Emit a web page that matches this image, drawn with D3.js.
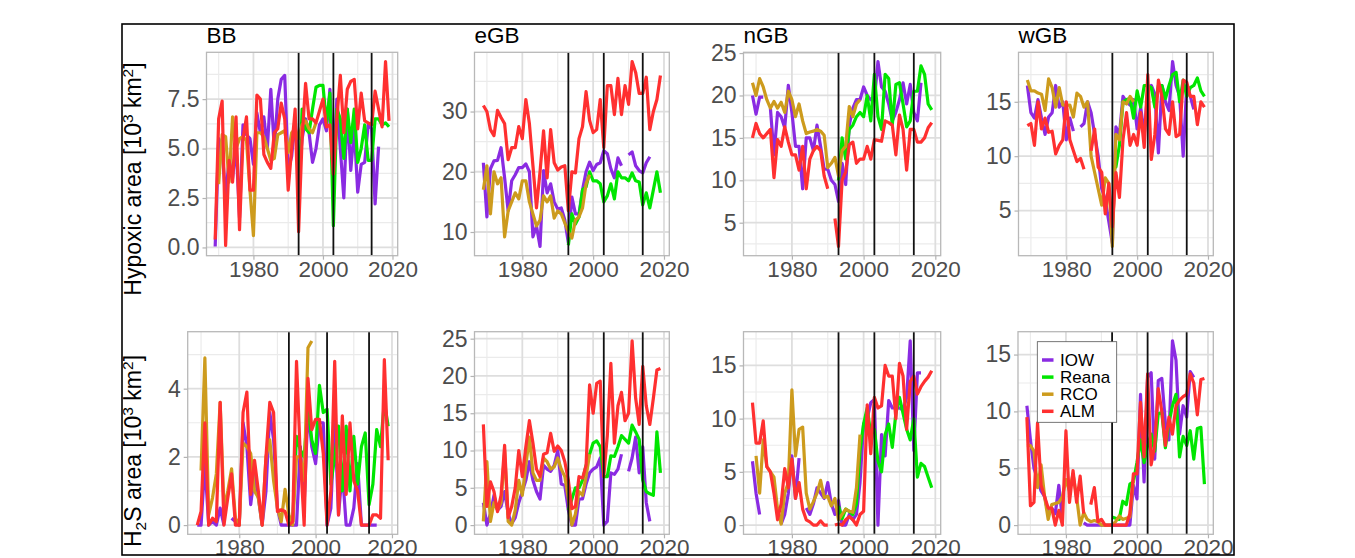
<!DOCTYPE html>
<html><head><meta charset="utf-8">
<script src="https://cdn.jsdelivr.net/npm/d3@7/dist/d3.min.js"></script>
<style>html,body{margin:0;padding:0;background:#fff;} svg{display:block;font-family:"Liberation Sans",Arial,sans-serif;}</style>
</head><body><svg id="chart" width="1355" height="558"></svg>
<script>
// ---------------- DATA ----------------
const regions = ["BB", "eGB", "nGB", "wGB"];
const seriesNames = ["IOW", "Reana", "RCO", "ALM"];
const seriesColors = ["#8a2be2", "#00e600", "#cd9b1d", "#ff3030"];
const eventYears = [1993, 2003, 2014];
const xTicks = [1980, 2000, 2020];
const xMinor = [1970, 1990, 2010];
const hypoxicTitle = "Hypoxic area";
const h2sTitle = "H2S area";

// start years of each series (values are yearly from the start year)
const startIOW = 1969, startReana = 1993, startALM = 1969;
const startRCO = [1970, 1969, 1969, 1969];   // hypoxic row: BB, eGB, nGB, wGB
const startRCOh2s = [1970, 1969, 1970, 1969]; // H2S row

// Hypoxic area [10^3 km2]
const bbHypIOW = [0.05,5.5,5.0,2.5,4.5,3.5,5.2,1.5,6.2,5.7, 5.5,4.2,6.8,5.8,6.6,5.0,8.0,5.0,7.5,8.5, 8.7,3.9,4.6,6.5,3.5,5.5,6.5,5.8,4.3,5.0, 6.2,6.5,5.9,8.0,4.0,7.5,5.0,2.5,7.0,3.9, 6.0,2.8,4.2,4.3,6.2,6.0,2.2,5.1];
const bbHypReana = [2.0,7.0,6.0,5.8,7.0,8.1,8.2,8.2,6.3,7.8, 1.1,7.0,6.5,4.5,7.0,5.3,7.0,4.3,5.0,6.2, 4.4,4.4,6.5,6.5,6.2,6.3,6.1];
const bbHypRCO = [3.2,5.7,5.6,3.3,6.6,5.0,5.5,5.6,5.4,2.9, 0.6,5.8,5.8,5.6,5.0,4.4,4.5,5.7,5.8,5.9, 4.8,5.8,6.0,5.5,6.2,6.4,6.0,5.8,6.3];
const bbHypALM = [0.4,6.5,7.4,0.1,4.4,3.3,6.6,0.9,5.5,6.6, 2.9,2.9,7.7,7.5,4.7,4.3,4.0,5.8,6.0,7.3, 6.5,2.9,5.0,7.0,0.8,5.5,8.3,6.5,6.5,6.3, 6.9,7.5,6.1,6.2,3.7,6.5,8.7,5.8,8.0,8.4, 8.5,6.0,7.8,6.4,6.3,6.2,7.9,7.0,6.1,9.4, 6.4];

const eHypIOW = [21.5,12.5,20.5,21.8,21.9,24,19,13.5,18.5,19.5, 20.7,20.7,21.3,20,9.2,11,7.6,20.2,16.5,18, 15,13.8,14,12,8.2,15.8,13,13,17,20, 21.6,20.2,21.2,21.5,23.5,23,20.5,19,22.3,21, null,22.8,23.3,21,20.2,19.8,21.5,22.5];
const eHypReana = [7.8,13,11.3,12.5,17,17.5,20,18.5,18.5,18, 15,16,18,15.5,20,19,19,18.5,19.8,18.5, 18.3,14.5,16.5,14,17,20,16.5];
const eHypRCO = [17,21,13,20,18,19,9.2,13.5,15,16.5, 15.5,18.5,18.5,15,13,11,12,16,15,16, 12.3,13.5,13,11.5,10,9,12,12.5,14,18, 19.5];
const eHypALM = [31,30,27,26,30.2,29,28,22,24,24, 27.5,25.5,32,28,21,14,20,26.8,19,27, 21.5,20.3,20.8,21,13.5,20,19.8,25.5,27.5,33.3, 28.5,26.5,27,32,24,34.3,34.3,29.5,35.5,29.5, 34.3,31.2,38.3,36.5,33,33,35.7,27,30,32, 36];

const nHypIOW = [20,17.8,19.8,19.8,null,18.5,13,18,17.5,16.2, 21.2,18,14,14,9,15,15,13.5,16.5,14, 11.3,11.3,10,9.5,7.5,12,9.5,16.5,18.5,19.5, 19.5,21,20,19.5,19.5,24,21,20.5,19,17, 18,19.5,21.5,19,21.3,18,17,21.5];
const nHypReana = [10,15,12.5,16,16.5,17.5,18,17.5,20,17, 22.5,17.5,16,22.5,22,16.5,21.3,21.5,19,16.3, 17,20.5,20.5,23.5,22.5,19,18.3];
const nHypRCO = [21.5,20,22,21,19.5,18.5,19.3,18.5,19.2,18, 20.5,19.5,17.5,19,17,15.5,15.7,15.8,16,15.8, 15.3,11.5,12,12.7,10.5,13.5,14,18.7,17.5,19, 19.5];
const nHypALM = [15,16.7,15.5,15,15.5,16,10.3,14.8,14,16.3, 14.5,13,13,11.2,14,9,12.5,13.5,14,13.5, 10.5,9,null,5.5,2.2,10,11,14.2,14.5,12, 12.5,12.5,14,12.5,14.8,14.7,14.6,17,16.8,16.5, 13,17.7,16,11.2,16,16,14.5,14.5,15,16.2, 16.8];

const wHypIOW = [16.5,14,13.5,15.2,13.5,12,13.6,14,16.5,14.5, 15,11.5,13.5,12.3,null,12.7,13,15,14,12, 10,7,6,4,2,12.7,12,15.5,15,14.7, 15.2,12.5,14.5,12,16,16.5,15.7,10.3,16.5,15, 14.2,18.7,16.5,15.5,10,16.5,15.5,14.3];
const wHypReana = [9,9,11,15,15.2,15.3,13.5,16,14.5,16.5, 16.5,16.3,14.5,16.5,16.5,15.3,16.5,17.5,17.7,15, 17,15.5,16.3,16.5,17.2,16,15.5];
const wHypRCO = [17,16,16,15.8,15.7,14.2,17.1,16.3,14.5,16.3, 14.7,14.7,14.7,13.6,15.8,15.5,14.5,15,10,8.5, 7,5.5,8,7.5,1.7,12,11.5,15,14.8,15.5, 15];
const wHypALM = [12.8,13,11,15,12.5,13.5,12.2,12.3,10.2,11, 11.5,15,11.5,10.5,9.5,9.8,8.8,null,10.5,12.5, 9,8.5,4.7,7.5,3.5,8.5,6.2,11.5,14,11, 12,11,14,10.8,17.5,9.7,12,17,15.5,12.5, 12,15,11.8,12,17,16.8,15.5,15.5,12.9,15, 14.5];

// H2S area [10^3 km2]
const bbH2sIOW = [0,0,1.8,0,0.1,0,0.5,0,null,0.2, 0.1,0,3.0,2.3,0.6,1.5,0.8,0,1.0,3.3, 2.5,0.5,0,0,0,0,0,2.3,0.6,3.4, 2.3,1.8,3.0,3.0,0,0.5,3.2,0.3,1.6,0, 0,0.5,1.8,0,0,0,0,0];
const bbH2sReana = [0,0.1,2.6,2.2,2.0,3.5,2.5,2.1,4.1,3.3, 3.4,1.2,2.0,2.9,1.0,2.9,1.0,2.6,1.2,2.3, 2.7,0.6,1.2,2.8,2.3,3.6,2.9];
const bbH2sRCO = [1.6,4.9,0.3,0.8,1.5,3.6,0.5,1.0,1.65,0.2, 0,2.4,2.3,2.1,1.0,0.8,0,2.0,2.5,1.3, 0.5,0.1,1.05,0.3,0,2.0,2.0,1.3,5.2,5.4];
const bbH2sALM = [0,0.4,3.0,0,0.2,0.1,3.6,0,0.8,1.5, 0,0,3.3,3.9,0.9,1.9,1.0,0,2.0,3.6, 3.3,0.4,0.45,0.4,0,0.1,4.8,2.0,0,4.3, 2.8,3.1,3.1,2.1,0,1.0,4.8,0.3,3.2,0.9, 3.0,1.3,1.0,0,0,0,0.3,0.3,0.2,4.85, 1.9];

const eH2sIOW = [3,0,1.5,4,2,2.5,4.5,1.5,0.2,1, 3,4.5,6,8.5,6,4.5,3.5,8,7.5,7.2, 8,10,5.5,5.3,2,0,0,3.5,3.5,5.5, 7,7.5,7.8,9,0,0.5,7,6.8,7.5,9.5, null,7.2,9,11.8,7,10.5,3,0.5];
const eH2sReana = [2,3.5,5,5,6,8,9.5,11,11.3,10.5, 6.5,6.5,9.3,9.2,10.5,12,11.5,11,13.4,12.5, 11.5,6,4.5,4.2,4,12.5,7];
const eH2sRCO = [0.5,8.5,0.5,3,2,3,10,0.5,0,2, 6,4,8,11.8,7,6,6,9,8.5,7.5, 7.8,9,7.5,6.5,3.5,0,1.5,4.5,4,6.5, 9.5];
const eH2sALM = [13.5,2.5,5.8,4.5,1.8,4,10.7,1.0,2.5,5, 10,6.5,10.5,14,11,7.5,6.5,9.5,9.7,12.3, 9.9,10.6,10,8.5,6,2.2,2.5,6.5,6.3,8, 18.8,15,19,19.3,6.5,12,21.7,11,16,17.8, 14,15,24.7,17,13.5,21.3,16,13.5,17,20.8, 21];

const nH2sIOW = [6,3,1.0,null,null,null,null,null,0.1,1, 3,6.5,2.5,6.3,null,1.6,1.0,2,3.5,3, 2.5,4,2,1.0,2.3,0,0,1.0,0.5,1.0, 4,9.5,10,11.5,11.8,0,8.5,6.5,11.7,11, 11,11,10.8,12,17.3,7,14.3,14.3];
const nH2sReana = [1.8,0.6,1.5,1.3,1.0,2,7,9.5,11,8.5, 9,6,5,8.5,9.5,7.3,10.5,12,10.5,9, 8,10,4.5,5.8,5.5,4.5,3.5];
const nH2sRCO = [6.5,3,8,5.5,5,4.5,1.5,0.1,3,4, 12.7,6.5,9,9.2,3,1.5,2.2,3,4.2,2.6, 2.7,1.8,2.5,0.5,1.0,1.5,1.3,1.2,3.5,8.5];
const nH2sALM = [11.5,7.7,7.7,9.8,5.5,5,3,0.5,2,5.3, 3.5,6.2,2.5,4,1.5,0.5,0.3,0,0,0.4, 0,0,null,0,0.1,0,0.5,0.8,0.5,0, 1.0,1.3,11.3,6.7,12,11,11.2,15,14,14, 10,15.2,14,9,13.5,14,12.3,13,13.5,13.9, 14.5];

const wH2sIOW = [10.5,7.5,5,4,3,2.5,1,1.5,1,3.5, 0.5,null,null,null,null,null,0.2,0,0,0, 0,0,0,0,0,0,0,0,0,0, 3.5,2.3,11.5,3.8,13,13.4,5.8,12.7,12.9,9, 7.5,16.2,14.5,8,10.5,9.5,13.5,13];
const wH2sReana = [0.7,0.6,0.5,2.1,1.8,3.6,3.8,5.5,7.5,5.5, 7,8,6.5,9.8,9.9,6.8,9,10.5,11.5,6, 7.8,7,8.3,5.8,8.5,8.6,3.6];
const wH2sRCO = [7,7,6.5,3.3,5.3,2.5,0.5,1.8,1.9,2, 2.5,4,3,4.5,2.5,0,1.1,0.5,0.3,0.4, 0.3,0,0,0,0,0.3,0.8,0.5,0.6,0.7, 4];
const wH2sALM = [9.5,1.7,2,9,3.5,2.5,1.5,1.5,0,1.3, 0,8.3,2,4.8,2,4.3,1.0,null,1.8,3.3, 0.3,0.5,0,0,0,0,0,0,0,1.0, 4.5,4.5,10.8,6,13.3,5.3,7,12,10,7, 9.5,8,10.5,11,11.3,11.5,13.3,12.5,9.7,12.8, 12.9];

const yTickSteps = [[2.5, 10, 5, 5], [2, 5, 5, 5]];

// ---------------- LAYOUT ----------------
const W = 1355, H = 558;
const colRight = [397.7, 669.3, 940.7, 1213.3];
const panelLeft = [[206.5, 474.5, 743.5, 1018.5], [187.7, 474.5, 743.5, 1018]];
const rowTop = [52.3, 331.7], rowBottom = [255.7, 534.3];

const rows = [
  [[bbHypIOW, bbHypReana, bbHypRCO, bbHypALM], [eHypIOW, eHypReana, eHypRCO, eHypALM],
   [nHypIOW, nHypReana, nHypRCO, nHypALM], [wHypIOW, wHypReana, wHypRCO, wHypALM]],
  [[bbH2sIOW, bbH2sReana, bbH2sRCO, bbH2sALM], [eH2sIOW, eH2sReana, eH2sRCO, eH2sALM],
   [nH2sIOW, nH2sReana, nH2sRCO, nH2sALM], [wH2sIOW, wH2sReana, wH2sRCO, wH2sALM]]
];

const svg = d3.select("#chart");
svg.append("rect").attr("width", W).attr("height", H).attr("fill", "#fff");

function toPoints(arr, start) { return arr.map((v, i) => ({ year: start + i, v })); }

rows.forEach((row, r) => {
  row.forEach((sets, c) => {
    const left = panelLeft[r][c], right = colRight[c], top = rowTop[r], bottom = rowBottom[r];
    const starts = [startIOW, startReana, (r === 0 ? startRCO : startRCOh2s)[c], startALM];
    const x = d3.scaleLinear().domain([1966.5, 2021.5]).range([left, right]);
    const all = sets.flat().filter(v => v != null);
    const [mn, mx] = d3.extent(all);
    const pad = (mx - mn) * 0.05;
    const y = d3.scaleLinear().domain([mn - pad, mx + pad]).range([bottom, top]);
    const step = yTickSteps[r][c];
    const [d0, d1] = y.domain();
    const yMajor = d3.range(Math.ceil(d0 / step) * step, d1 + 1e-9, step);
    const yMinor = d3.range(Math.ceil((d0 - step / 2) / step) * step + step / 2, d1, step).filter(v => v > d0 && v < d1);

    const g = svg.append("g");
    // grid
    g.selectAll(".ymin").data(yMinor).join("line")
      .attr("x1", left).attr("x2", right).attr("y1", d => y(d)).attr("y2", d => y(d))
      .attr("stroke", "#ebebeb").attr("stroke-width", 1.2);
    g.selectAll(".xmin").data(xMinor).join("line")
      .attr("y1", top).attr("y2", bottom).attr("x1", d => x(d)).attr("x2", d => x(d))
      .attr("stroke", "#ebebeb").attr("stroke-width", 1.2);
    g.selectAll(".ymaj").data(yMajor).join("line")
      .attr("x1", left).attr("x2", right).attr("y1", d => y(d)).attr("y2", d => y(d))
      .attr("stroke", "#dedede").attr("stroke-width", 1.8);
    g.selectAll(".xmaj").data(xTicks).join("line")
      .attr("y1", top).attr("y2", bottom).attr("x1", d => x(d)).attr("x2", d => x(d))
      .attr("stroke", "#dedede").attr("stroke-width", 1.8);

    // series lines
    const line = d3.line().defined(d => d.v != null).x(d => x(d.year)).y(d => y(d.v));
    sets.forEach((arr, k) => {
      g.append("path").datum(toPoints(arr, starts[k])).attr("d", line)
        .attr("fill", "none").attr("stroke", seriesColors[k]).attr("stroke-width", 3.2)
        .attr("stroke-linejoin", "round").attr("stroke-linecap", "butt");
    });

    // event lines
    g.selectAll(".ev").data(eventYears).join("line")
      .attr("x1", d => x(d)).attr("x2", d => x(d)).attr("y1", top).attr("y2", bottom)
      .attr("stroke", "#111").attr("stroke-width", 1.8);

    // border
    g.append("rect").attr("x", left).attr("y", top).attr("width", right - left).attr("height", bottom - top)
      .attr("fill", "none").attr("stroke", "#b8b8b8").attr("stroke-width", 1.3);

    // axes
    const fmt = step === 2.5 ? d3.format(".1f") : d3.format("d");
    const ya = g.append("g").attr("transform", `translate(${left},0)`)
      .call(d3.axisLeft(y).tickValues(yMajor).tickFormat(fmt).tickSize(4).tickPadding(3));
    const xa = g.append("g").attr("transform", `translate(0,${bottom})`)
      .call(d3.axisBottom(x).tickValues(xTicks).tickFormat(d3.format("d")).tickSize(4).tickPadding(1));
    [ya, xa].forEach((a, i) => {
      a.select(".domain").remove();
      a.attr("font-family", null).attr("font-size", null);
      a.selectAll("line").attr("stroke", "#b3b3b3").attr("stroke-width", 1.2);
      a.selectAll("text").attr("fill", "#4d4d4d").style("font-size", i === 0 ? "23px" : "22.5px")
        .style("font-family", '"Liberation Sans", Arial, sans-serif');
    });

    if (r === 0) {
      g.append("text").attr("x", left).attr("y", top - 9.5).text(regions[c])
        .attr("font-size", 22.5).attr("fill", "#000");
    }

    if (r === 1 && c === 3) {
      const lg = g.append("g");
      lg.append("rect").attr("x", 1037.3).attr("y", 341.7).attr("width", 79.4).attr("height", 80.6)
        .attr("fill", "#fff").attr("stroke", "#555").attr("stroke-width", 0.8);
      seriesNames.forEach((nm, k) => {
        const yy = 360 + k * 17.1;
        lg.append("line").attr("x1", 1042).attr("x2", 1053.5).attr("y1", yy).attr("y2", yy)
          .attr("stroke", seriesColors[k]).attr("stroke-width", 3.5);
        lg.append("text").attr("x", 1060).attr("y", yy).attr("dy", "0.35em").text(nm)
          .attr("font-size", 17).attr("fill", "#000");
      });
    }
  });
});

// y axis titles
function yTitle(yc, parts) {
  const t = svg.append("text").attr("transform", `translate(141,${yc}) rotate(-90)`)
    .attr("text-anchor", "middle").attr("font-size", 23).attr("fill", "#000");
  parts.forEach(p => {
    const s = t.append("tspan").text(p.t);
    if (p.sup) s.attr("font-size", 15.5).attr("dy", -8);
    if (p.sub) s.attr("font-size", 15.5).attr("dy", 5);
    if (p.back) s.attr("dy", p.back);
  });
}
yTitle(179, [{ t: hypoxicTitle + " [10" }, { t: "3", sup: true }, { t: " km", back: 8 }, { t: "2", sup: true }, { t: "]", back: 8 }]);
yTitle(451, [{ t: h2sTitle.slice(0, 1) }, { t: "2", sub: true }, { t: h2sTitle.slice(2) + " [10", back: -5 }, { t: "3", sup: true }, { t: " km", back: 8 }, { t: "2", sup: true }, { t: "]", back: 8 }]);

// outer frame
svg.append("rect").attr("x", 122).attr("y", 24).attr("width", 1112).attr("height", 531)
  .attr("fill", "none").attr("stroke", "#000").attr("stroke-width", 1.6);
</script></body></html>
